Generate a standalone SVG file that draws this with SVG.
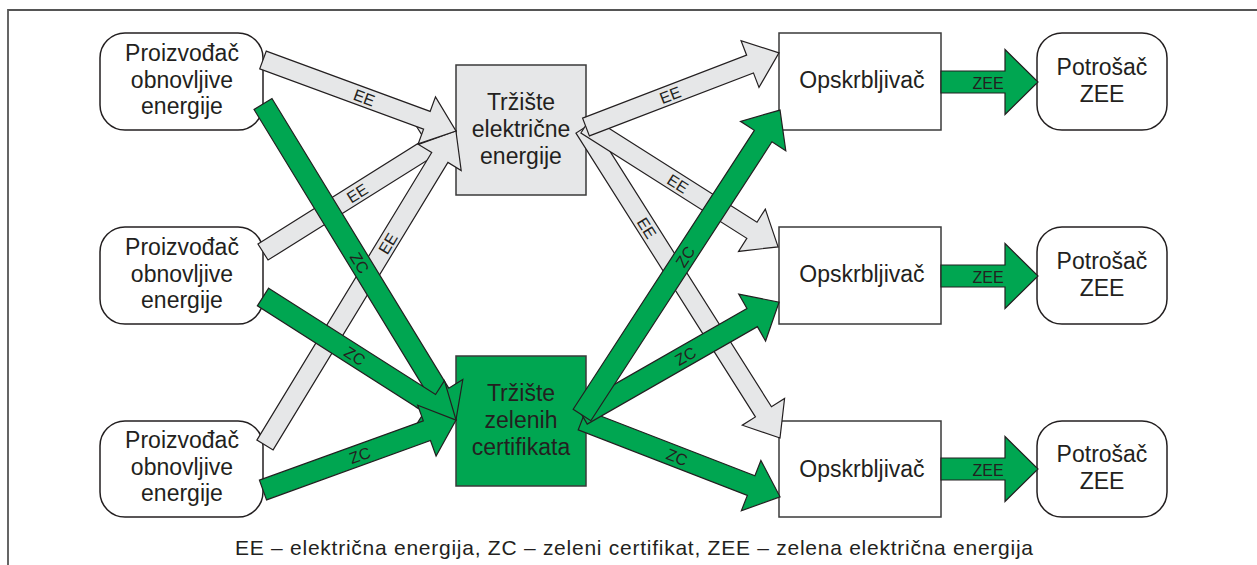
<svg xmlns="http://www.w3.org/2000/svg" width="1257" height="565" viewBox="0 0 1257 565">
<style>
  text { font-family: "Liberation Sans", Arial, sans-serif; fill: #231f20; }
  .node { font-size: 23px; text-anchor: middle; }
  .lbl { font-size: 16px; text-anchor: middle; }
  .rbox { fill: #ffffff; stroke: #231f20; stroke-width: 1.5; }
  .box { fill: #ffffff; stroke: #3a3a3a; stroke-width: 1.5; }
  .eebox { fill: #e6e7e8; stroke: #3a3a3a; stroke-width: 1.5; }
  .zcbox { fill: #00a651; stroke: #3a3a3a; stroke-width: 1.5; }
  .ee { fill: #e6e7e8; stroke: #231f20; stroke-width: 1.2; stroke-linejoin: miter; }
  .zc { fill: #00a651; stroke: #231f20; stroke-width: 1.2; stroke-linejoin: miter; }
</style>

<path d="M8,565 V10 H1257" fill="none" stroke="#555" stroke-width="1.8"/>

<g id="producer1">
  <rect class="rbox" x="100" y="33" width="163" height="97" rx="25"/>
  <text class="node" x="182" y="61">Proizvođač</text>
  <text class="node" x="182" y="88">obnovljive</text>
  <text class="node" x="182" y="114">energije</text>
</g>
<g id="producer2">
  <rect class="rbox" x="100" y="227" width="163" height="97" rx="25"/>
  <text class="node" x="182" y="255">Proizvođač</text>
  <text class="node" x="182" y="282">obnovljive</text>
  <text class="node" x="182" y="308">energije</text>
</g>
<g id="producer3">
  <rect class="rbox" x="100" y="421" width="163" height="96" rx="25"/>
  <text class="node" x="182" y="448">Proizvođač</text>
  <text class="node" x="182" y="475">obnovljive</text>
  <text class="node" x="182" y="501">energije</text>
</g>

<g id="market-ee">
  <rect class="eebox" x="456" y="65" width="130" height="130"/>
  <text class="node" x="521" y="110">Tržište</text>
  <text class="node" x="521" y="137">električne</text>
  <text class="node" x="521" y="164">energije</text>
</g>
<g id="market-zc">
  <rect class="zcbox" x="456" y="356" width="130" height="130"/>
  <text class="node" x="521" y="401">Tržište</text>
  <text class="node" x="521" y="428">zelenih</text>
  <text class="node" x="521" y="455">certifikata</text>
</g>

<g id="supplier1">
  <rect class="box" x="779" y="33" width="162" height="97"/>
  <text class="node" x="862" y="88">Opskrbljivač</text>
</g>
<g id="supplier2">
  <rect class="box" x="779" y="227" width="162" height="97"/>
  <text class="node" x="862" y="282">Opskrbljivač</text>
</g>
<g id="supplier3">
  <rect class="box" x="779" y="421" width="162" height="96"/>
  <text class="node" x="862" y="477">Opskrbljivač</text>
</g>

<g id="consumer1">
  <rect class="rbox" x="1037" y="33" width="130" height="97" rx="25"/>
  <text class="node" x="1102" y="75">Potrošač</text>
  <text class="node" x="1102" y="102">ZEE</text>
</g>
<g id="consumer2">
  <rect class="rbox" x="1037" y="227" width="130" height="97" rx="25"/>
  <text class="node" x="1102" y="269">Potrošač</text>
  <text class="node" x="1102" y="296">ZEE</text>
</g>
<g id="consumer3">
  <rect class="rbox" x="1037" y="421" width="130" height="96" rx="25"/>
  <text class="node" x="1102" y="462">Potrošač</text>
  <text class="node" x="1102" y="489">ZEE</text>
</g>

<g id="connectors">
  <!-- EE flows (grey) -->
  <g transform="translate(263,252) rotate(-32.1)">
    <polygon class="ee" points="0,-9.5 196.8,-9.5 196.8,-25 227.8,0 196.8,25 196.8,9.5 0,9.5"/>
    <text class="lbl" x="111" y="6">EE</text>
  </g>
  <g transform="translate(265,445) rotate(-58.7)">
    <polygon class="ee" points="0,-9.5 336.5,-9.5 336.5,-25 367.5,0 336.5,25 336.5,9.5 0,9.5"/>
    <text class="lbl" x="236" y="6">EE</text>
  </g>
  <g transform="translate(263,60) rotate(20.2)">
    <polygon class="ee" points="0,-9.5 174.6,-9.5 174.6,-25 205.6,0 174.6,25 174.6,9.5 0,9.5"/>
    <text class="lbl" x="108" y="6">EE</text>
  </g>
  <g transform="translate(584,128) rotate(57.7)">
    <polygon class="ee" points="0,-9.5 335.8,-9.5 335.8,-25 366.8,0 335.8,25 335.8,9.5 0,9.5"/>
    <text class="lbl" x="118" y="6">EE</text>
  </g>
  <g transform="translate(586,125) rotate(32.4)">
    <polygon class="ee" points="0,-9.5 196.5,-9.5 196.5,-25 227.5,0 196.5,25 196.5,9.5 0,9.5"/>
    <text class="lbl" x="109" y="6">EE</text>
  </g>
  <g transform="translate(586,127) rotate(-21)">
    <polygon class="ee" points="0,-9.5 175.7,-9.5 175.7,-25 206.7,0 175.7,25 175.7,9.5 0,9.5"/>
    <text class="lbl" x="90" y="6">EE</text>
  </g>

  <!-- ZC flows (green) -->
  <g transform="translate(263,104) rotate(58.6)">
    <polygon class="zc" points="0,-10.5 339.3,-10.5 339.3,-27 370.3,0 339.3,27 339.3,10.5 0,10.5"/>
    <text class="lbl" x="186" y="6">ZC</text>
  </g>
  <g transform="translate(263,297) rotate(32.5)">
    <polygon class="zc" points="0,-10.5 197.9,-10.5 197.9,-27 228.9,0 197.9,27 197.9,10.5 0,10.5"/>
    <text class="lbl" x="109" y="6">ZC</text>
  </g>
  <g transform="translate(263,490) rotate(-19.9)">
    <polygon class="zc" points="0,-10.5 174.3,-10.5 174.3,-27 205.3,0 174.3,27 174.3,10.5 0,10.5"/>
    <text class="lbl" x="103" y="6">ZC</text>
  </g>
  <g transform="translate(582,420) rotate(21.2)">
    <polygon class="zc" points="0,-10.5 181.4,-10.5 181.4,-27 212.4,0 181.4,27 181.4,10.5 0,10.5"/>
    <text class="lbl" x="102" y="6">ZC</text>
  </g>
  <g transform="translate(582,415) rotate(-29.8)">
    <polygon class="zc" points="0,-10.5 196.1,-10.5 196.1,-27 227.1,0 196.1,27 196.1,10.5 0,10.5"/>
    <text class="lbl" x="119" y="6">ZC</text>
  </g>
  <g transform="translate(582,415) rotate(-57)">
    <polygon class="zc" points="0,-10.5 332.6,-10.5 332.6,-27 363.6,0 332.6,27 332.6,10.5 0,10.5"/>
    <text class="lbl" x="189" y="6">ZC</text>
  </g>

  <!-- ZEE flows -->
  <g transform="translate(941,82)">
    <polygon class="zc" points="0,-11 64,-11 64,-32.5 97,0 64,32.5 64,11 0,11"/>
    <text class="lbl" x="47" y="6.5">ZEE</text>
  </g>
  <g transform="translate(941,276)">
    <polygon class="zc" points="0,-11 64,-11 64,-32.5 97,0 64,32.5 64,11 0,11"/>
    <text class="lbl" x="47" y="6.5">ZEE</text>
  </g>
  <g transform="translate(941,469)">
    <polygon class="zc" points="0,-11 64,-11 64,-32.5 97,0 64,32.5 64,11 0,11"/>
    <text class="lbl" x="47" y="6.5">ZEE</text>
  </g>
</g>

<g id="legend">
  <text x="634" y="555" font-size="21" text-anchor="middle" textLength="798" lengthAdjust="spacing">EE – električna energija, ZC – zeleni certifikat, ZEE – zelena električna energija</text>
</g>
</svg>
